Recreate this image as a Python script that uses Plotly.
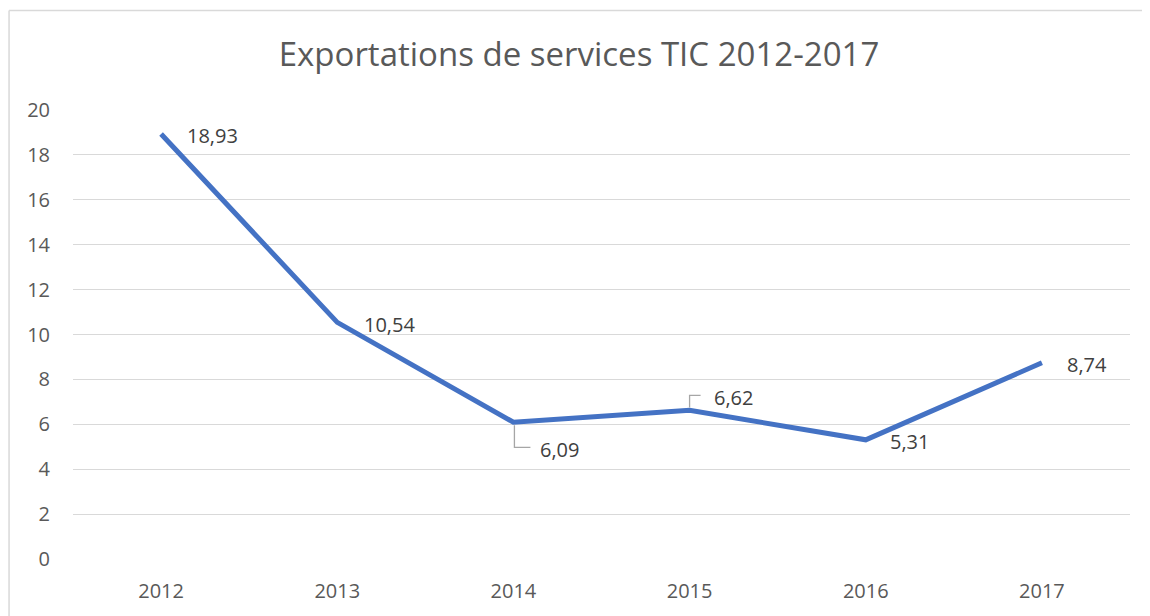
import plotly.graph_objects as go

years = ["2012", "2013", "2014", "2015", "2016", "2017"]
values = [18.93, 10.54, 6.09, 6.62, 5.31, 8.74]
labels = ["18,93", "10,54", "6,09", "6,62", "5,31", "8,74"]
y_ticks = [0, 2, 4, 6, 8, 10, 12, 14, 16, 18, 20]

# pixel offsets of each data label from its point
label_dx = [24, 25, 25, 22, 22, 23]
label_dy = [-1, -2, -27, 13, -2, -2]

font = "'Open Sans', sans-serif"
grey = "#595959"

fig = go.Figure()

fig.add_trace(go.Scatter(
    x=years,
    y=values,
    mode="lines",
    line=dict(color="#4472C4", width=5),
    hoverinfo="x+y",
))

# category axis: annotations and shapes use the category index
for i, (v, t, dx, dy) in enumerate(zip(values, labels, label_dx, label_dy)):
    fig.add_annotation(
        x=i, y=v, text=t, showarrow=False,
        xanchor="left", yanchor="middle",
        xshift=dx, yshift=dy,
        font=dict(family=font, size=20, color="#404040"),
    )

# leader lines for 2014 and 2015
fig.add_shape(
    type="path", xref="x", yref="y", xsizemode="pixel", ysizemode="pixel",
    xanchor=years.index("2014"), yanchor=values[2],
    path="M 1 -3 L 1 -25 L 17 -25",
    line=dict(color="#a6a6a6", width=1.3),
)
fig.add_shape(
    type="path", xref="x", yref="y", xsizemode="pixel", ysizemode="pixel",
    xanchor=years.index("2015"), yanchor=values[3],
    path="M 0 3 L 0 15 L 11 15",
    line=dict(color="#a6a6a6", width=1.3),
)

# chart border: only top and left edges are visible in the cropped original
border = dict(color="#d9d9d9", width=1.5)
fig.add_shape(type="line", xref="paper", yref="paper",
              x0=-0.0605, x1=1.1, y0=1.2217, y1=1.2217, line=border)
fig.add_shape(type="line", xref="paper", yref="paper",
              x0=-0.0605, x1=-0.0605, y0=-0.3, y1=1.2217, line=border)

fig.update_layout(
    width=1142,
    height=608,
    margin=dict(l=65, r=20, t=102, b=53),
    paper_bgcolor="white",
    plot_bgcolor="white",
    showlegend=False,
    title=dict(
        text="Exportations de services TIC 2012-2017",
        x=0.5, xanchor="center", y=0.923, yanchor="middle",
        font=dict(family=font, size=33, color=grey),
    ),
    font=dict(family=font, size=20, color=grey),
    xaxis=dict(
        type="category",
        range=[-0.5, 5.5],
        showgrid=False,
        showline=False,
        zeroline=False,
        ticks="",
        ticklabelstandoff=18,
        tickfont=dict(size=20, color=grey),
    ),
    yaxis=dict(
        range=[0, 20],
        tickvals=y_ticks,
        showgrid=True,
        gridcolor="#d9d9d9",
        gridwidth=1.3,
        zeroline=False,
        showline=False,
        ticks="",
        ticklabelstandoff=22,
        tickfont=dict(size=20, color=grey),
    ),
)

fig.write_html("out.html")
